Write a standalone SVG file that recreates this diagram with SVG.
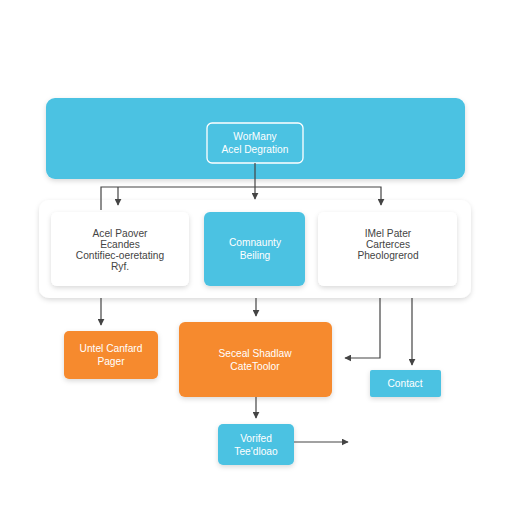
<svg xmlns="http://www.w3.org/2000/svg" width="512" height="512" viewBox="0 0 512 512">
<defs>
<marker id="ah" viewBox="0 0 10 10" refX="9" refY="5" markerWidth="7" markerHeight="7" orient="auto" markerUnits="userSpaceOnUse">
<path d="M0,0 L10,5 L0,10 z" fill="#444"/>
</marker>
<filter id="sh" x="-10%" y="-10%" width="120%" height="130%">
<feDropShadow dx="0" dy="2" stdDeviation="2.5" flood-color="#000" flood-opacity="0.15"/>
</filter>
</defs>
<style>
text{font-family:"Liberation Sans",Arial,sans-serif;font-size:10.2px;text-anchor:middle}
.dk{fill:#444}
.wt{fill:#fff}
.blue{fill:#4BC2E2}
.orange{fill:#F68A2E}
.card{fill:#fff}
.ln{fill:none;stroke:#444;stroke-width:1.2}
</style>
<rect width="512" height="512" fill="#fff"/>
<g id="banner">
<rect x="46" y="98" width="419" height="81" rx="9" class="blue" filter="url(#sh)"/>
</g>
<g id="workflow">
<rect x="207" y="123" width="96" height="40" rx="5" fill="none" stroke="#fff" stroke-width="1.3"/>
<text x="255" y="140" class="wt">WorMany</text>
<text x="255" y="153" class="wt">Acel Degration</text>
</g>
<g id="container">
<rect x="39" y="200" width="432" height="98" rx="10" fill="#fff" filter="url(#sh)"/>
</g>
<g id="left-card">
<rect x="51" y="212" width="138" height="74" rx="6" class="card" filter="url(#sh)"/>
<text x="120" y="237" class="dk">Acel Paover</text>
<text x="120" y="248" class="dk">Ecandes</text>
<text x="120" y="259" class="dk">Contifiec-oeretating</text>
<text x="120" y="270" class="dk">Ryf.</text>
</g>
<g id="mid-card">
<rect x="204" y="212" width="101" height="74" rx="6" class="blue" filter="url(#sh)"/>
<text x="255" y="246" class="wt">Comnaunty</text>
<text x="255" y="259" class="wt">Beiling</text>
</g>
<g id="right-card">
<rect x="318" y="212" width="139" height="74" rx="6" class="card" filter="url(#sh)"/>
<text x="388" y="237" class="dk">IMel Pater</text>
<text x="388" y="248" class="dk">Carterces</text>
<text x="388" y="259" class="dk">Pheologrerod</text>
</g>
<g id="left-orange">
<rect x="64" y="331" width="94" height="48" rx="5" class="orange" filter="url(#sh)"/>
<text x="111" y="352" class="wt">Untel Canfard</text>
<text x="111" y="365" class="wt">Pager</text>
</g>
<g id="mid-orange">
<rect x="179" y="322" width="153" height="75" rx="6" class="orange" filter="url(#sh)"/>
<text x="255" y="357" class="wt">Seceal Shadlaw</text>
<text x="255" y="370" class="wt">CateToolor</text>
</g>
<g id="contact">
<rect x="370" y="370" width="71" height="27" rx="2" class="blue" filter="url(#sh)"/>
<text x="405" y="387" class="wt">Contact</text>
</g>
<g id="verified">
<rect x="218" y="424" width="76" height="41" rx="5" class="blue" filter="url(#sh)"/>
<text x="256" y="442" class="wt">Vorifed</text>
<text x="256" y="455" class="wt">Tee'dloao</text>
</g>
<g id="connectors">
<path class="ln" d="M255,163 V199" marker-end="url(#ah)"/>
<path class="ln" d="M101,210 V187 H381 V205" marker-end="url(#ah)"/>
<path class="ln" d="M118,187 V205" marker-end="url(#ah)"/>
<path class="ln" d="M101,298 V325" marker-end="url(#ah)"/>
<path class="ln" d="M256,298 V316" marker-end="url(#ah)"/>
<path class="ln" d="M380,298 V358 H345" marker-end="url(#ah)"/>
<path class="ln" d="M412,298 V365" marker-end="url(#ah)"/>
<path class="ln" d="M256,397 V418" marker-end="url(#ah)"/>
<path class="ln" d="M294,442 H348" marker-end="url(#ah)"/>
</g>
</svg>
